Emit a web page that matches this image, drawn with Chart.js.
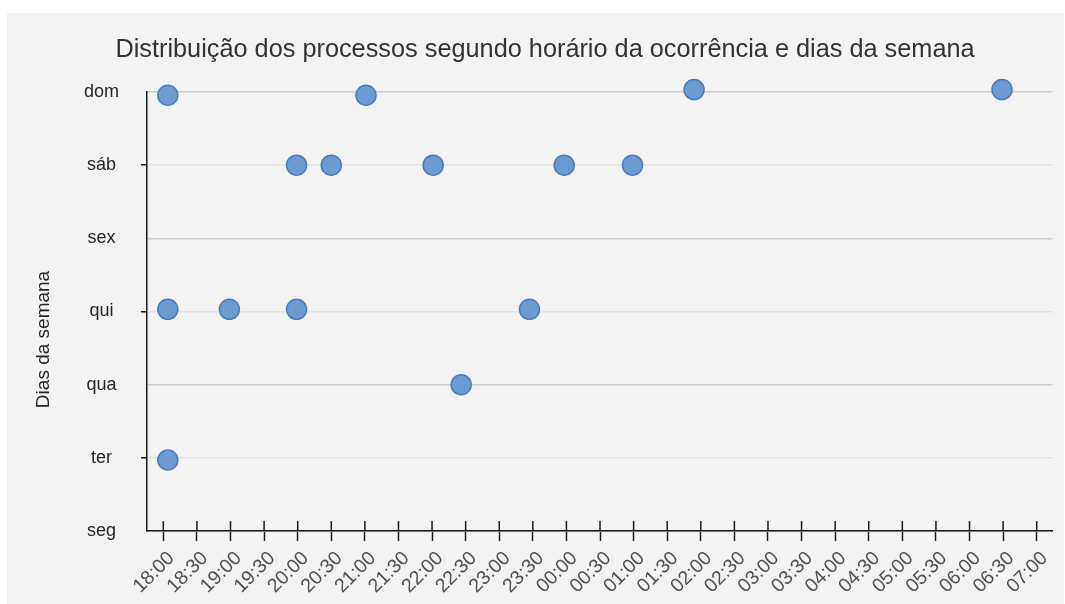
<!DOCTYPE html>
<html>
<head>
<meta charset="utf-8">
<script src="https://cdn.jsdelivr.net/npm/chart.js@4"></script>
<style>
  html, body { margin: 0; padding: 0; background: #ffffff; }
  #wrap { position: absolute; left: 7px; top: 13px; width: 1057px; height: 591px; background: #f3f3f3; }
</style>
</head>
<body>
<div id="wrap"><canvas id="c"></canvas></div>
<script>
// ---- data ----
const dayLabels = ['seg', 'ter', 'qua', 'qui', 'sex', 'sáb', 'dom'];
const xTickLabels = ['18:00','18:30','19:00','19:30','20:00','20:30','21:00','21:30','22:00','22:30',
  '23:00','23:30','00:00','00:30','01:00','01:30','02:00','02:30','03:00','03:30','04:00','04:30',
  '05:00','05:30','06:00','06:30','07:00'];
// occurrence times and day value (0 = seg ... 6 = dom)
const pointTimes = ['18:04','21:01','01:54','06:29',
                    '19:59','20:30','22:01','23:58','00:59',
                    '18:04','18:59','19:59','23:27',
                    '22:26',
                    '18:04'];
const pointDays  = [5.955, 5.955, 6.033, 6.033,
                    5, 5, 5, 5, 5,
                    3.03, 3.03, 3.03, 3.03,
                    2,
                    0.97];
const yTitle = 'Dias da semana';

// hours after 18:00
function toHours(t) {
  const [h, m] = t.split(':').map(Number);
  let v = h + m / 60;
  if (v < 12) v += 24;
  return v - 18;
}
const tickValues = xTickLabels.map(toHours);
const points = pointTimes.map((t, i) => ({ x: toHours(t), y: pointDays[i] }));

const FONT = "'Liberation Sans', Arial, sans-serif";

const extras = {
  id: 'extras',
  afterDraw(chart) {
    const ctx = chart.ctx;
    const xs = chart.scales.x;
    const area = chart.chartArea;
    ctx.save();
    // upper half of the crossing x tick marks
    ctx.strokeStyle = '#1a1a1a';
    ctx.lineWidth = 1.5;
    ctx.beginPath();
    xs.ticks.forEach((t, i) => {
      const px = xs.getPixelForTick(i);
      ctx.moveTo(px, area.bottom - 10);
      ctx.lineTo(px, area.bottom);
    });
    ctx.stroke();
    // y axis title
    ctx.fillStyle = '#262626';
    ctx.font = "19px " + FONT;
    ctx.textAlign = 'center';
    ctx.textBaseline = 'middle';
    ctx.translate(37, (area.top + area.bottom) / 2 + 28);
    ctx.rotate(-Math.PI / 2);
    ctx.fillText(yTitle, 0, 0);
    ctx.restore();
  }
};

new Chart(document.getElementById('c'), {
  type: 'scatter',
  data: {
    datasets: [{
      data: points,
      backgroundColor: '#6c9bd2',
      borderColor: '#4a7bbd',
      borderWidth: 1.5,
      pointRadius: 10,
      pointHoverRadius: 10,
      clip: false
    }]
  },
  options: {
    responsive: true,
    maintainAspectRatio: false,
    animation: false,
    layout: { padding: { left: 30, right: 11, top: 0, bottom: 0 } },
    plugins: {
      legend: { display: false },
      tooltip: { enabled: false },
      title: {
        display: true,
        text: 'Distribuição dos processos segundo horário da ocorrência e dias da semana',
        color: '#333333',
        font: { family: FONT, size: 25.3, weight: 'normal' },
        padding: { top: 22, bottom: 26.6 }
      }
    },
    scales: {
      x: {
        type: 'linear',
        min: -0.243,
        max: 13.235,
        afterBuildTicks: (axis) => { axis.ticks = tickValues.map(v => ({ value: v })); },
        afterFit: (s) => { s.height = 73; },
        border: { display: true, color: '#1a1a1a', width: 1.5 },
        grid: { display: true, drawOnChartArea: false, drawTicks: true, tickLength: 10, tickColor: '#1a1a1a', tickWidth: 1.5 },
        ticks: {
          autoSkip: false,
          maxRotation: 45,
          minRotation: 45,
          padding: 6,
          labelOffset: 8,
          color: '#505050',
          font: { family: FONT, size: 19.5 },
          callback: (v, i) => xTickLabels[i]
        }
      },
      y: {
        type: 'linear',
        min: 0,
        max: 6,
        afterBuildTicks: (axis) => { axis.ticks = dayLabels.map((d, i) => ({ value: i })); },
        afterFit: (s) => { s.width = 110; },
        border: { display: true, color: '#1a1a1a', width: 1.5 },
        grid: {
          color: (c) => (c.index % 2 === 0 ? '#cccccc' : '#e2e2e2'),
          lineWidth: 1.5,
          drawTicks: true,
          tickLength: 6,
          tickColor: (c) => (c.index % 2 === 1 ? '#1a1a1a' : 'rgba(0,0,0,0)'),
          tickWidth: 1.5
        },
        ticks: {
          crossAlign: 'center',
          padding: 22,
          color: '#262626',
          font: { family: FONT, size: 18 },
          callback: (v, i) => dayLabels[i]
        },
        title: { display: false }
      }
    }
  },
  plugins: [extras]
});
</script>
</body>
</html>
